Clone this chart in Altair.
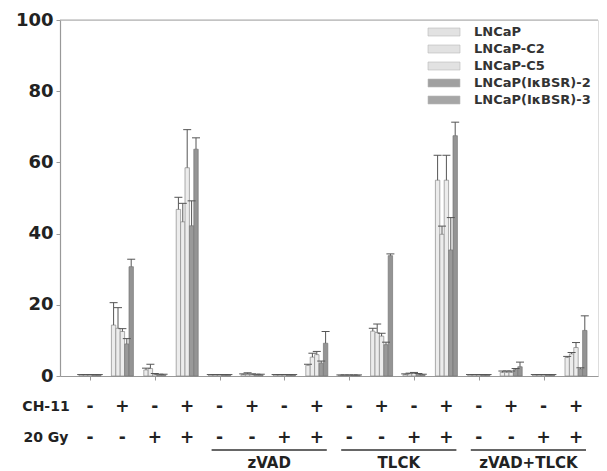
import altair as alt
import pandas as pd

series = ["LNCaP", "LNCaP-C2", "LNCaP-C5", "LNCaP(I\u03baBSR)-2", "LNCaP(I\u03baBSR)-3"]
ch11 = ["-", "+", "-", "+"] * 4
gy20 = ["-", "-", "+", "+"] * 4
treat_names = ["zVAD", "TLCK", "zVAD+TLCK"]
treat_first = [4, 8, 12]
treat_last = [7, 11, 15]

v_lncap = [0.3, 14.3, 1.7, 46.8, 0.3, 0.4, 0.3, 3.0, 0.2, 12.6, 0.4, 55.0, 0.3, 1.0, 0.3, 5.2]
e_lncap = [0.1, 6.3, 0.5, 3.4, 0.1, 0.2, 0.1, 0.3, 0.1, 0.8, 0.2, 7.0, 0.1, 0.4, 0.1, 0.3]
v_c2 = [0.3, 13.4, 2.1, 43.3, 0.3, 0.5, 0.3, 5.3, 0.2, 12.2, 0.6, 39.8, 0.3, 1.0, 0.3, 6.2]
e_c2 = [0.1, 5.8, 1.2, 5.2, 0.1, 0.4, 0.1, 1.1, 0.1, 2.4, 0.2, 2.3, 0.1, 0.4, 0.1, 0.4]
v_c5 = [0.3, 12.5, 0.4, 58.5, 0.3, 0.4, 0.3, 6.0, 0.2, 11.2, 0.8, 55.0, 0.3, 1.0, 0.3, 8.0]
e_c5 = [0.1, 0.8, 0.3, 10.7, 0.1, 0.2, 0.1, 0.9, 0.1, 0.8, 0.2, 7.0, 0.1, 0.4, 0.1, 1.4]
v_b2 = [0.3, 9.0, 0.3, 42.2, 0.3, 0.3, 0.3, 3.6, 0.2, 8.8, 0.5, 35.4, 0.3, 1.8, 0.3, 2.0]
e_b2 = [0.1, 1.5, 0.2, 7.0, 0.1, 0.2, 0.1, 0.6, 0.1, 0.7, 0.2, 9.1, 0.1, 0.3, 0.1, 0.3]
v_b3 = [0.3, 30.7, 0.3, 63.7, 0.3, 0.3, 0.3, 9.2, 0.2, 33.8, 0.3, 67.5, 0.3, 2.6, 0.3, 12.8]
e_b3 = [0.1, 2.1, 0.2, 3.2, 0.1, 0.2, 0.1, 3.3, 0.1, 0.5, 0.2, 3.8, 0.1, 1.3, 0.1, 4.1]

values = [v_lncap, v_c2, v_c5, v_b2, v_b3]
errors = [e_lncap, e_c2, e_c5, e_b2, e_b3]
fills = ["#ececec", "#ececec", "#ececec", "#999999", "#949494"]
strokes = ["#8a8a8a", "#8a8a8a", "#8a8a8a", "#7a7a7a", "#777777"]
swatch = ["#e2e2e2", "#e2e2e2", "#e2e2e2", "#a0a0a0", "#a6a6a6"]

rows = []
for s, name in enumerate(series):
    for g in range(16):
        rows.append({"g": g, "s": s, "series": name, "v": values[s][g], "e": errors[s][g]})
df = pd.DataFrame(rows)

lab_df = pd.DataFrame({"g": list(range(16)), "ch": ch11, "gy": gy20})
treat_df = pd.DataFrame({"name": treat_names, "a": treat_first, "b": treat_last})

W, H = 538, 356
STEP = 32.4
LO = -30 / STEP
HI = LO + W / STEP
BW = 4.4 / STEP
CW = 4.0 / STEP
FONT = "DejaVu Sans"

xs = alt.Scale(domain=[LO, HI], nice=False, zero=False)
ys = alt.Scale(domain=[0, 100], nice=False)
cscale = alt.Scale(domain=series, range=fills)
sscale = alt.Scale(domain=series, range=strokes)

base = alt.Chart(df).transform_calculate(
    xl=f"datum.g + (datum.s - 2.5) * {BW}",
    xr=f"datum.g + (datum.s - 1.5) * {BW}",
    xc=f"datum.g + (datum.s - 2) * {BW}",
    top="datum.v + datum.e",
    cl=f"datum.g + (datum.s - 2) * {BW} - {CW}",
    cr=f"datum.g + (datum.s - 2) * {BW} + {CW}",
)

err_line = base.mark_rule(color="#555555", strokeWidth=1).encode(
    x=alt.X("xc:Q", scale=xs), y=alt.Y("v:Q", scale=ys), y2="top:Q"
)
err_cap = base.mark_rule(color="#555555", strokeWidth=1).encode(
    x=alt.X("cl:Q", scale=xs), x2="cr:Q", y=alt.Y("top:Q", scale=ys)
)

bars = base.mark_rect(strokeWidth=0.7).encode(
    x=alt.X("xl:Q", scale=xs,
            axis=alt.Axis(values=list(range(16)), labels=False, title=None, grid=False,
                          tickSize=4, tickColor="#999999", domainColor="#999999", domainWidth=1.2)),
    x2="xr:Q",
    y=alt.Y("v:Q", scale=ys,
            axis=alt.Axis(values=[0, 20, 40, 60, 80, 100], title=None, grid=False, tickSize=4,
                          tickColor="#999999", domainColor="#999999", domainWidth=1.2,
                          labelFont=FONT, labelFontWeight="bold", labelFontSize=18,
                          labelColor="#222222", labelPadding=3)),
    y2=alt.datum(0),
    fill=alt.Color("series:N", scale=cscale, legend=None),
    stroke=alt.Stroke("series:N", scale=sscale, legend=None),
)

top_line = alt.Chart(pd.DataFrame({"t": [100]})).mark_rule(color="#aaaaaa", strokeWidth=1.2).encode(
    y=alt.Y("t:Q", scale=ys)
)

txt = dict(font=FONT, fontWeight="bold", color="#222222", baseline="middle", align="center")
ch_row = alt.Chart(lab_df).mark_text(fontSize=17, **txt).encode(
    x=alt.X("g:Q", scale=xs), y=alt.value(387), text="ch:N"
)
gy_row = alt.Chart(lab_df).mark_text(fontSize=17, **txt).encode(
    x=alt.X("g:Q", scale=xs), y=alt.value(418), text="gy:N"
)
row_titles = alt.Chart(pd.DataFrame({"t": ["CH-11", "20 Gy"], "p": [387, 418]})).mark_text(
    fontSize=14, **txt).encode(x=alt.value(-14), y=alt.Y("p:Q", scale=None), text="t:N")

treat_base = alt.Chart(treat_df).transform_calculate(
    la=f"datum.a - {8 / STEP}", lb=f"datum.b + {10 / STEP}", mid=f"(datum.a + datum.b) / 2 + {1 / STEP}"
)
treat_lines = treat_base.mark_rule(color="#333333", strokeWidth=1.3).encode(
    x=alt.X("la:Q", scale=xs), x2="lb:Q", y=alt.value(430)
)
treat_text = treat_base.mark_text(fontSize=15, **txt).encode(
    x=alt.X("mid:Q", scale=xs), y=alt.value(443), text="name:N"
)

legend_layers = []
for i, name in enumerate(series):
    yc = 12 + 17 * i
    one = alt.Chart(alt.Data(values=[{"label": name}]))
    legend_layers.append(one.mark_rect(fill=swatch[i], stroke="#bbbbbb", strokeWidth=0.6).encode(
        x=alt.value(368), x2=alt.value(400), y=alt.value(yc - 4), y2=alt.value(yc + 4)))
    legend_layers.append(one.mark_text(font=FONT, fontWeight="bold", fontSize=13, color="#333333",
                                       align="left", baseline="middle").encode(
        x=alt.value(414), y=alt.value(yc), text="label:N"))

chart = alt.layer(
    top_line, bars, err_line, err_cap, ch_row, gy_row, row_titles, treat_lines, treat_text,
    *legend_layers
).properties(
    width=W, height=H, autosize="none",
    padding={"left": 52, "top": 12, "right": 1, "bottom": 95},
).configure_view(stroke=None).configure(background="white")

chart.save("out.html", embed_options={"renderer": "svg", "actions": False})
